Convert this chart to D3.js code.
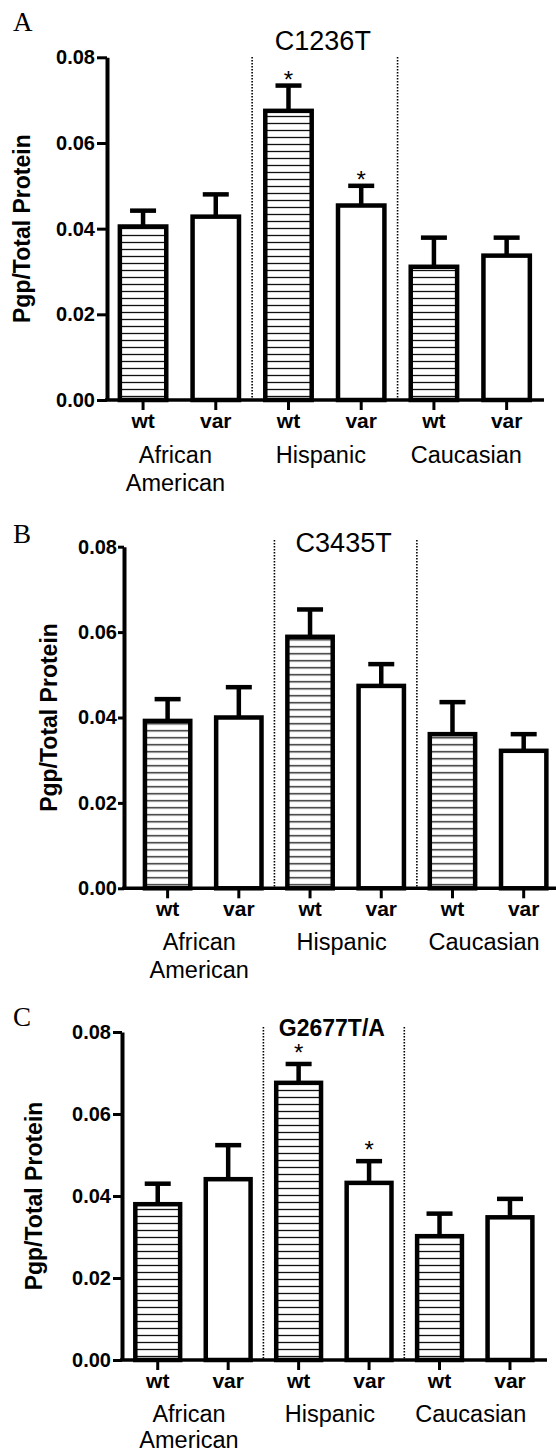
<!DOCTYPE html>
<html>
<head>
<meta charset="utf-8">
<script src="https://cdn.jsdelivr.net/npm/d3@7"></script>
<style>
  body { margin: 0; background: #fff; }
  svg { display: block; }
</style>
</head>
<body>
<svg id="chart" width="556" height="1456"></svg>
<script>
// ---- data ----
var groups    = ["African American", "Hispanic", "Caucasian"];
var genotypes = ["wt", "var"];
var yTicks    = [0, 0.02, 0.04, 0.06, 0.08];
var letters   = ["A", "B", "C"];
var snps      = ["C1236T", "C3435T", "G2677T/A"];

// order: AA wt, AA var, Hisp wt, Hisp var, Cauc wt, Cauc var
var meanA = [0.0405, 0.0428, 0.0675, 0.0454, 0.0311, 0.0337];
var semA  = [0.0037, 0.0052, 0.0059, 0.0046, 0.0068, 0.0042];
var sigA  = [false, false, true, true, false, false];

var meanB = [0.0392, 0.0400, 0.0589, 0.0474, 0.0361, 0.0322];
var semB  = [0.0051, 0.0071, 0.0064, 0.0051, 0.0075, 0.0039];
var sigB  = [false, false, false, false, false, false];

var meanC = [0.0380, 0.0441, 0.0676, 0.0432, 0.0302, 0.0348];
var semC  = [0.0050, 0.0083, 0.0046, 0.0053, 0.0055, 0.0045];
var sigC  = [false, false, true, true, false, false];

var means = [meanA, meanB, meanC];
var sems  = [semA, semB, semC];
var sigs  = [sigA, sigB, sigC];

// ---- layout per panel ----
var layout = [
  {top: 57.3, base: 400, axisX: 107, x0: 106.7, x1: 543, xEnd: 544, tick: 10, pad: 2,
   letterY: 31, titleY: 50, titleSize: 27, titleBold: false, dotTop: 57, yTitleX: 29.5,
   starDy: 2, lab: [30, 63, 91]},
  {top: 546.7, base: 888.3, axisX: 124, x0: 132, x1: 559.3, xEnd: 556, tick: 6, pad: 1,
   letterY: 543, titleY: 551.7, titleSize: 27, titleBold: false, dotTop: 540, yTitleX: 56.5,
   starDy: 2, lab: [30, 62, 90]},
  {top: 1032, base: 1360, axisX: 122, x0: 122.5, x1: 545.2, xEnd: 547, tick: 9, pad: 2,
   letterY: 1025.5, titleY: 1035.5, titleSize: 23, titleBold: true, dotTop: 1027, yTitleX: 42,
   starDy: -3, lab: [29, 62, 88]}
];

var svg = d3.select("#chart");
var sans = "'Liberation Sans', Arial, sans-serif";
var serif = "'Liberation Serif', 'Times New Roman', serif";

var defs = svg.append("defs");

layout.forEach(function(L, p) {
  var keys = [];
  groups.forEach(function(g) {
    genotypes.forEach(function(t) { keys.push(g + "|" + t); });
  });

  var x = d3.scaleBand()
      .domain(keys)
      .range([L.x0, L.x1])
      .paddingInner(0.3)
      .paddingOuter(0.15);

  var y = d3.scaleLinear()
      .domain([0, 0.08])
      .range([L.base, L.top]);

  // hatch pattern, aligned to the baseline
  var pat = defs.append("pattern")
      .attr("id", "hatch" + p)
      .attr("patternUnits", "userSpaceOnUse")
      .attr("x", 0).attr("y", L.base)
      .attr("width", 10).attr("height", 7);
  pat.append("rect").attr("width", 10).attr("height", 7).attr("fill", "#fff");
  pat.append("line")
      .attr("x1", 0).attr("x2", 10)
      .attr("y1", 3.5).attr("y2", 3.5)
      .attr("stroke", "#111").attr("stroke-width", 1.3);

  var g = svg.append("g").attr("class", "panel");

  // panel letter
  g.append("text")
      .attr("x", 13).attr("y", L.letterY)
      .attr("font-family", serif).attr("font-size", 27)
      .text(letters[p]);

  // dotted separators between groups
  var seps = [1, 3].map(function(i) {
    return (x(keys[i]) + x.bandwidth() + x(keys[i + 1])) / 2;
  });
  g.selectAll(".sep").data(seps).enter().append("line")
      .attr("x1", function(d) { return d; }).attr("x2", function(d) { return d; })
      .attr("y1", L.dotTop).attr("y2", L.base)
      .attr("stroke", "#000").attr("stroke-width", 1.6)
      .attr("stroke-dasharray", "1.6,1.4");

  // SNP title
  g.append("text")
      .attr("x", (seps[0] + seps[1]) / 2 - 2).attr("y", L.titleY)
      .attr("text-anchor", "middle")
      .attr("font-family", sans).attr("font-size", L.titleSize)
      .attr("font-weight", L.titleBold ? "bold" : "normal")
      .text(snps[p]);

  var rows = keys.map(function(k, i) {
    return {key: k, mean: means[p][i], sem: sems[p][i], sig: sigs[p][i], wt: k.split("|")[1] === "wt"};
  });

  var sw = 4.5;
  // error bars
  var eb = g.selectAll(".err").data(rows).enter().append("g");
  eb.append("line")
      .attr("x1", function(d) { return x(d.key) + x.bandwidth() / 2; })
      .attr("x2", function(d) { return x(d.key) + x.bandwidth() / 2; })
      .attr("y1", function(d) { return y(d.mean); })
      .attr("y2", function(d) { return y(d.mean + d.sem); })
      .attr("stroke", "#000").attr("stroke-width", 4.5);
  eb.append("line")
      .attr("x1", function(d) { return x(d.key) + x.bandwidth() / 2 - 13; })
      .attr("x2", function(d) { return x(d.key) + x.bandwidth() / 2 + 13; })
      .attr("y1", function(d) { return y(d.mean + d.sem); })
      .attr("y2", function(d) { return y(d.mean + d.sem); })
      .attr("stroke", "#000").attr("stroke-width", 4.5);

  // bars
  g.selectAll(".bar").data(rows).enter().append("rect")
      .attr("x", function(d) { return x(d.key) + sw / 2; })
      .attr("width", x.bandwidth() - sw)
      .attr("y", function(d) { return y(d.mean); })
      .attr("height", function(d) { return L.base - y(d.mean); })
      .attr("fill", function(d) { return d.wt ? "url(#hatch" + p + ")" : "#fff"; })
      .attr("stroke", "#000").attr("stroke-width", sw);

  // significance stars
  g.selectAll(".star").data(rows.filter(function(d) { return d.sig; })).enter().append("text")
      .attr("x", function(d) { return x(d.key) + x.bandwidth() / 2; })
      .attr("y", function(d) { return y(d.mean + d.sem) + L.starDy; })
      .attr("text-anchor", "middle")
      .attr("font-family", sans).attr("font-size", 24)
      .text("*");

  // y axis
  var yAxis = d3.axisLeft(y)
      .tickValues(yTicks)
      .tickFormat(d3.format(".2f"))
      .tickSize(L.tick).tickSizeOuter(0).tickPadding(L.pad);
  var ya = g.append("g")
      .attr("transform", "translate(" + L.axisX + ",0)")
      .call(yAxis);
  ya.select(".domain").attr("stroke-width", 4);
  ya.selectAll(".tick line").attr("stroke-width", 3);
  ya.selectAll(".tick text")
      .attr("font-family", sans).attr("font-size", 20).attr("font-weight", "bold")
      .attr("fill", "#000");

  // x axis
  var xAxis = d3.axisBottom(x)
      .tickSize(10).tickSizeOuter(0).tickPadding(3)
      .tickFormat(function(k) { return k.split("|")[1]; });
  var xa = g.append("g")
      .attr("transform", "translate(0," + L.base + ")")
      .call(xAxis);
  xa.select(".domain").remove();
  xa.selectAll(".tick line").attr("stroke-width", 3);
  xa.selectAll(".tick text")
      .attr("font-family", sans).attr("font-size", 21).attr("font-weight", "bold")
      .attr("fill", "#000");
  g.append("line")
      .attr("x1", L.axisX - 2).attr("x2", L.xEnd)
      .attr("y1", L.base).attr("y2", L.base)
      .attr("stroke", "#000").attr("stroke-width", 3.5);

  // group labels
  groups.forEach(function(name, gi) {
    var cx = (x(keys[gi * 2]) + x(keys[gi * 2 + 1]) + x.bandwidth()) / 2 - 4;
    var t = g.append("text")
        .attr("text-anchor", "middle")
        .attr("font-family", sans).attr("font-size", 23.5);
    name.split(" ").forEach(function(w, wi) {
      t.append("tspan").attr("x", cx).attr("y", L.base + L.lab[1] + wi * (L.lab[2] - L.lab[1])).text(w);
    });
  });

  // y title
  g.append("text")
      .attr("transform", "translate(" + L.yTitleX + "," + (L.base + L.top) / 2 + ") rotate(-90)")
      .attr("text-anchor", "middle")
      .attr("font-family", sans).attr("font-size", 23).attr("font-weight", "bold")
      .text("Pgp/Total Protein");
});
</script>
</body>
</html>
